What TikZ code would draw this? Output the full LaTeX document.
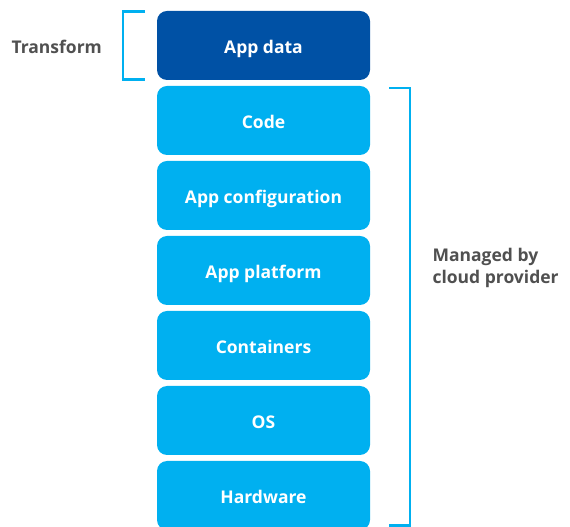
\documentclass[tikz,border=0pt]{standalone}
\usepackage{fontspec}
\setmainfont{Open Sans}
\definecolor{darkblue}{HTML}{0051A5}
\definecolor{lightblue}{HTML}{00B0F0}
\definecolor{labelgray}{HTML}{505050}
\begin{document}
\begin{tikzpicture}[x=1pt,y=1pt,
  layer/.style={rectangle, rounded corners=10pt, minimum width=213pt, minimum height=69pt,
    inner sep=0pt, text height=15.5pt, text depth=0pt, text=white,
    font=\fontsize{17.5}{21}\selectfont\bfseries, fill=lightblue},
  toplayer/.style={layer, fill=darkblue},
  bracketline/.style={draw=lightblue, line width=2.2pt},
  sidelabel/.style={text=labelgray, font=\fontsize{17.5}{22}\selectfont\bfseries, align=left}]
\useasboundingbox (0,0) rectangle (570,527);
\node[toplayer] (appdata) at (263.5,481.5) {App data};
\node[layer] (code) at (263.5,406.5) {Code};
\node[layer] (config) at (263.5,331.5) {App configuration};
\node[layer] (platform) at (263.5,256.5) {App platform};
\node[layer] (containers) at (263.5,181.5) {Containers};
\node[layer] (os) at (263.5,106.5) {OS};
\node[layer] (hardware) at (263.5,31.5) {Hardware};
% brackets
\coordinate (lt) at (145,515.5);
\coordinate (lb) at (145,447.5);
\draw[bracketline] (lt) -- (123,515.5) -- (123,447.5) -- (lb);
\coordinate (rt) at (389,439);
\coordinate (rb) at (389,1.5);
\draw[bracketline] (rt) -- (410,439) -- (410,1.5) -- (rb);
\node[sidelabel, anchor=west] (transform) at (8,480) {Transform};
\node[sidelabel, anchor=west] (managed) at (429,259) {Managed by\\cloud provider};
\end{tikzpicture}
\end{document}
